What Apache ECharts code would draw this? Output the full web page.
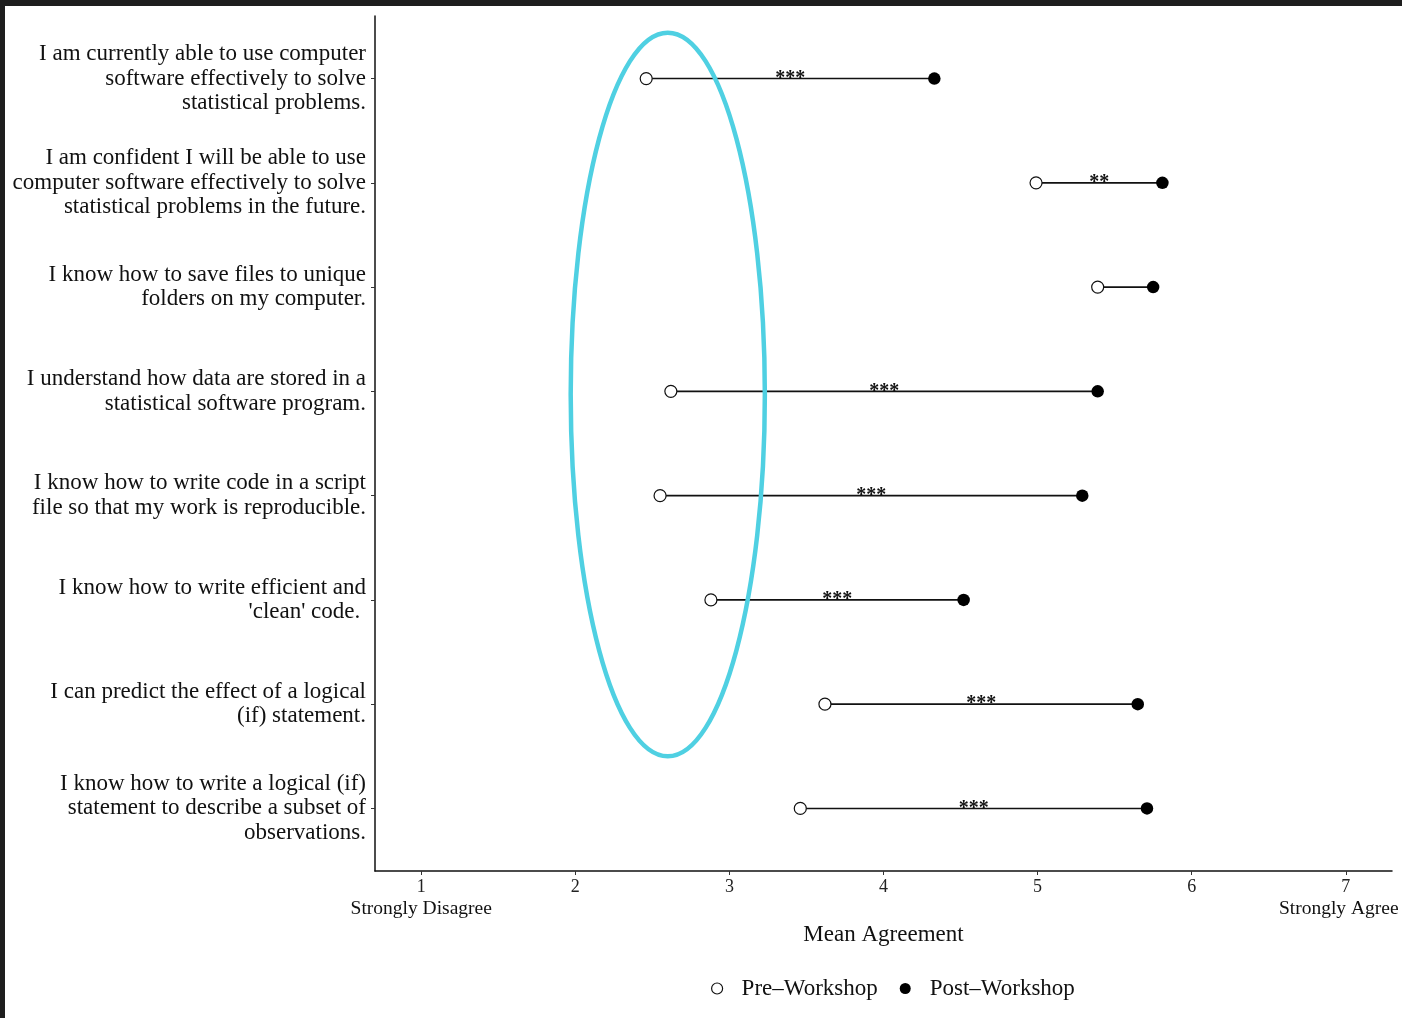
<!DOCTYPE html>
<html>
<head>
<meta charset="utf-8">
<script src="https://cdn.jsdelivr.net/npm/echarts@6/dist/echarts.min.js"></script>
<style>
  html, body { margin: 0; padding: 0; background: #1e1e1e; width: 1402px; height: 1018px; overflow: hidden; }
  #chart { position: absolute; left: 5px; top: 6px; width: 1397px; height: 1012px; background: #ffffff; }
</style>
</head>
<body>
<div id="chart"></div>
<script>
// ---- data ----
const items = [
  "I am currently able to use computer\nsoftware effectively to solve\nstatistical problems.",
  "I am confident I will be able to use\ncomputer software effectively to solve\nstatistical problems in the future.",
  "I know how to save files to unique\nfolders on my computer.",
  "I understand how data are stored in a\nstatistical software program.",
  "I know how to write code in a script\nfile so that my work is reproducible.",
  "I know how to write efficient and\n'clean' code. ",
  "I can predict the effect of a logical\n(if) statement.",
  "I know how to write a logical (if)\nstatement to describe a subset of\nobservations."
];
const preWorkshop  = [2.46, 4.99, 5.39, 2.62, 2.55, 2.88, 3.62, 3.46];
const postWorkshop = [4.33, 5.81, 5.75, 5.39, 5.29, 4.52, 5.65, 5.71];
const significance = ["***", "**", "", "***", "***", "***", "***", "***"];
const xTicks = [1, 2, 3, 4, 5, 6, 7];
const xTickNames = { 1: "Strongly Disagree", 7: "Strongly Agree" };
// highlight ellipse annotation: [centre x, centre row, radius x, radius rows]
const highlight = [2.60, 4.03, 0.63, 3.47];

const rows = items.map((_, i) => i + 1);
const serif = "'Liberation Serif', 'DejaVu Serif', serif";

const segData = rows.map((r, i) => [r, preWorkshop[i], postWorkshop[i], significance[i]]);

const chart = echarts.init(document.getElementById('chart'), null, { renderer: 'canvas' });
chart.setOption({
  backgroundColor: '#ffffff',
  animation: false,
  grid: { left: 370, right: 10, top: 10, bottom: 147, containLabel: false, outerBoundsMode: 'none' },
  xAxis: {
    type: 'value', min: 0.7, max: 7.3,
    name: 'Mean Agreement', nameLocation: 'middle', nameGap: 49,
    nameTextStyle: { fontFamily: serif, fontSize: 23, color: '#111' },
    axisLine: { show: true, onZero: false, lineStyle: { color: '#111', width: 1.5 } },
    axisTick: { show: true, length: 4, customValues: xTicks, lineStyle: { color: '#333', width: 1 } },
    splitLine: { show: false },
    axisLabel: {
      customValues: xTicks, margin: 6, hideOverlap: false,
      formatter: v => {
        const k = Math.round(v);
        if (!xTickNames[k]) return '{n|' + k + '}';
        return '{n|' + k + '}\n{' + (k === 7 ? 'tr' : 't') + '|' + xTickNames[k] + '}';
      },
      rich: {
        n: { fontFamily: serif, fontSize: 18, color: '#222', lineHeight: 20 },
        t: { fontFamily: serif, fontSize: 19.5, color: '#111', lineHeight: 23 },
        tr: { fontFamily: serif, fontSize: 19.5, color: '#111', lineHeight: 23, padding: [0, 14, 0, 0] }
      }
    }
  },
  yAxis: {
    type: 'value', min: 0.4, max: 8.6, inverse: true,
    axisLine: { show: true, onZero: false, lineStyle: { color: '#111', width: 1.5 } },
    axisTick: { show: true, length: 4, customValues: rows, lineStyle: { color: '#333', width: 1 } },
    splitLine: { show: false },
    axisLabel: {
      customValues: rows, margin: 9,
      fontFamily: serif, fontSize: 23, lineHeight: 24.5, color: '#111', align: 'right',
      formatter: v => items[Math.round(v) - 1]
    }
  },
  legend: {
    left: 706, top: 971, padding: 0, itemWidth: 11, itemHeight: 11, itemGap: 22,
    textStyle: { fontFamily: serif, fontSize: 23, color: '#111', padding: [0, 0, 0, 14] },
    data: [
      { name: 'Pre\u2013Workshop', icon: 'circle', itemStyle: { color: '#fff', borderColor: '#111', borderWidth: 1.2 } },
      { name: 'Post\u2013Workshop', icon: 'circle', itemStyle: { color: '#000', borderColor: '#000', borderWidth: 0 } }
    ]
  },
  series: [
    {
      type: 'custom', name: 'segments', z: 2, silent: true,
      data: segData,
      encode: { x: [1, 2], y: 0 },
      renderItem: (params, api) => {
        const r = api.value(0);
        const p1 = api.coord([api.value(1), r]);
        const p2 = api.coord([api.value(2), r]);
        const sig = segData[params.dataIndex][3];
        const children = [{
          type: 'line',
          shape: { x1: p1[0], y1: p1[1], x2: p2[0], y2: p2[1] },
          style: { stroke: '#111', lineWidth: 1.6 }
        }];
        if (sig) {
          children.push({
            type: 'text',
            style: {
              text: sig, x: (p1[0] + p2[0]) / 2, y: p1[1] + 10,
              align: 'center', verticalAlign: 'bottom',
              font: 'bold 20px ' + serif, fill: '#111'
            }
          });
        }
        return { type: 'group', children };
      }
    },
    {
      type: 'scatter', name: 'Pre\u2013Workshop', z: 3,
      data: preWorkshop.map((v, i) => [v, rows[i]]),
      symbol: 'circle', symbolSize: 12,
      itemStyle: { color: '#fff', borderColor: '#111', borderWidth: 1.2, opacity: 1 }
    },
    {
      type: 'scatter', name: 'Post\u2013Workshop', z: 3,
      data: postWorkshop.map((v, i) => [v, rows[i]]),
      symbol: 'circle', symbolSize: 12.5,
      itemStyle: { color: '#000', opacity: 1 }
    },
    {
      type: 'custom', name: 'highlight', z: 5, silent: true,
      data: [highlight],
      encode: { x: 0, y: 1 },
      renderItem: (params, api) => {
        const c = api.coord([api.value(0), api.value(1)]);
        const s = api.size([api.value(2), api.value(3)]);
        return {
          type: 'ellipse',
          shape: { cx: c[0], cy: c[1], rx: s[0], ry: s[1] },
          style: { fill: 'none', stroke: '#4fd0e2', lineWidth: 4.5 }
        };
      }
    }
  ]
});
</script>
</body>
</html>
